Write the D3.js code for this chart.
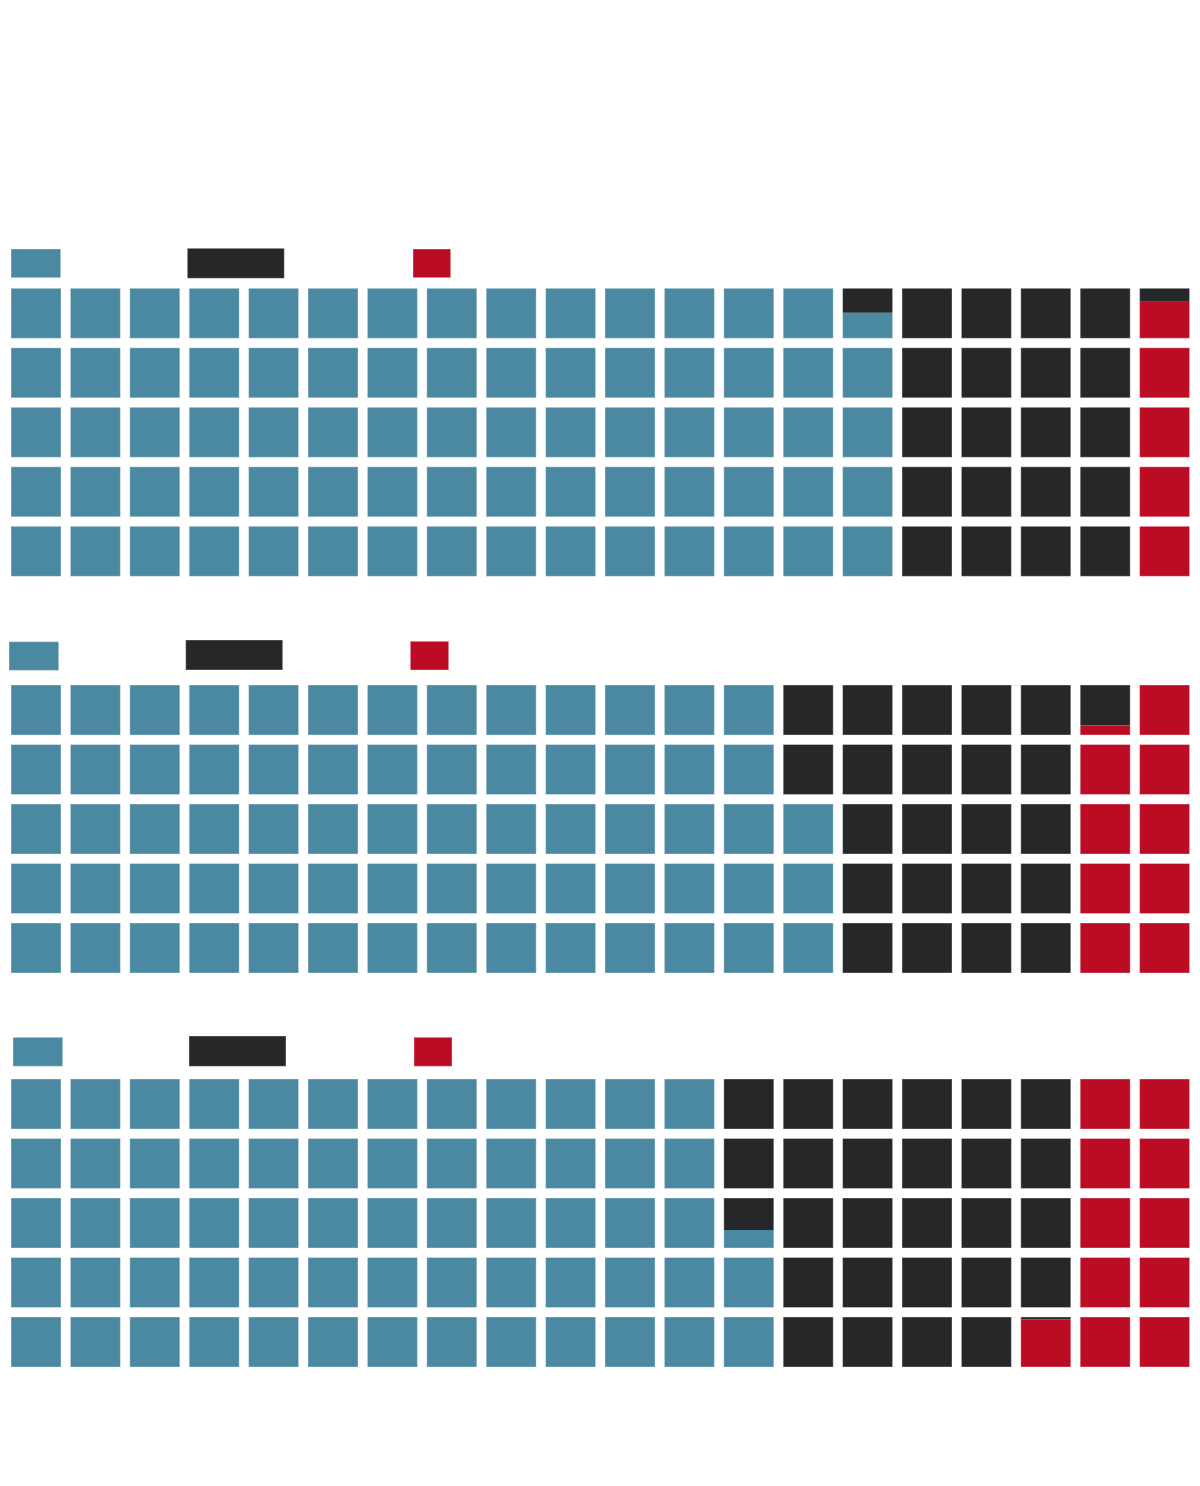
<!DOCTYPE html>
<html>
<head>
<meta charset="utf-8">
<script src="https://cdn.jsdelivr.net/npm/d3@7"></script>
<style>
  html, body { margin: 0; padding: 0; background: #fff; }
  svg { display: block; }
</style>
</head>
<body>
<svg id="chart" width="1200" height="1486"></svg>
<script>
// ---- data (percent shares per panel) ----
const categories = ["blue", "black", "red"];
const panels = ["Panel 1", "Panel 2", "Panel 3"];
const blueValues = [74.51, 68.00, 62.36];
const blackValues = [20.76, 22.81, 26.69];
const redValues = [4.73, 9.19, 10.95];

// ---- style / layout ----
const colors = { blue: "#4b89a2", black: "#252729", red: "#bc0c23" };
const nCols = 20, nRows = 5;
const cell = 50;
const panelTops = [288.3, 685, 1079];
const legendBoxes = [
  [ {x: 11, y: 249, w: 49.7, h: 28.7}, {x: 187.3, y: 248.3, w: 97, h: 30}, {x: 413, y: 249, w: 37.7, h: 28.7} ],
  [ {x: 9, y: 641.7, w: 49.7, h: 28.7}, {x: 185.7, y: 640, w: 97, h: 30}, {x: 410.3, y: 641.3, w: 38.4, h: 28.7} ],
  [ {x: 13, y: 1037.3, w: 49.7, h: 29}, {x: 189, y: 1036, w: 97, h: 30.3}, {x: 414, y: 1037.3, w: 38, h: 29} ]
];

const svg = d3.select("#chart");

const x = d3.scaleBand()
  .domain(d3.range(nCols))
  .range([11, 11 + 19 * 59.4 + cell])
  .paddingInner(9.4 / 59.4)
  .paddingOuter(0);

// rows numbered from the bottom (0 = bottom row)
const yRow = d3.scaleBand()
  .domain(d3.range(nRows).reverse())
  .range([0, 4 * 59.5 + cell])
  .paddingInner(9.5 / 59.5)
  .paddingOuter(0);

const h = d3.scaleLinear().domain([0, 1]).range([0, yRow.bandwidth()]);

panels.forEach((p, pi) => {
  const g = svg.append("g").attr("transform", `translate(0,${panelTops[pi]})`);
  const blue = blueValues[pi], red = redValues[pi], black = blackValues[pi];

  const cells = [];
  for (let c = 0; c < nCols; c++) {
    for (let r = 0; r < nRows; r++) {
      const iB = c * nRows + r;                 // blue fills from the left, bottom-up
      const iR = (nCols - 1 - c) * nRows + r;   // red fills from the right, bottom-up
      const bf = Math.max(0, Math.min(1, blue - iB));
      const rf = Math.max(0, Math.min(1, red - iR));
      const kf = Math.max(0, Math.min(1, 1 - bf - rf));
      cells.push({c, r, bf, rf, kf});
    }
  }

  const cg = g.selectAll("g.cell").data(cells).join("g").attr("class", "cell");

  // black portion at top
  cg.filter(d => d.kf > 0).append("rect")
    .attr("x", d => x(d.c))
    .attr("y", d => yRow(d.r))
    .attr("width", x.bandwidth())
    .attr("height", d => h(d.kf))
    .attr("fill", colors.black);

  // blue portion at bottom
  cg.filter(d => d.bf > 0).append("rect")
    .attr("x", d => x(d.c))
    .attr("y", d => yRow(d.r) + yRow.bandwidth() - h(d.bf))
    .attr("width", x.bandwidth())
    .attr("height", d => h(d.bf))
    .attr("fill", colors.blue);

  // red portion at bottom
  cg.filter(d => d.rf > 0).append("rect")
    .attr("x", d => x(d.c))
    .attr("y", d => yRow(d.r) + yRow.bandwidth() - h(d.rf))
    .attr("width", x.bandwidth())
    .attr("height", d => h(d.rf))
    .attr("fill", colors.red);

  // soft outline
  cg.append("rect")
    .attr("x", d => x(d.c))
    .attr("y", d => yRow(d.r))
    .attr("width", x.bandwidth())
    .attr("height", yRow.bandwidth())
    .attr("fill", "none")
    .attr("stroke", "#fff")
    .attr("stroke-opacity", 0.35)
    .attr("stroke-width", 1);

  // legend swatches
  const lg = svg.append("g");
  lg.selectAll("rect").data(categories).join("rect")
    .attr("x", (d, i) => legendBoxes[pi][i].x)
    .attr("y", (d, i) => legendBoxes[pi][i].y)
    .attr("width", (d, i) => legendBoxes[pi][i].w)
    .attr("height", (d, i) => legendBoxes[pi][i].h)
    .attr("fill", d => colors[d])
    .attr("stroke", "#fff")
    .attr("stroke-opacity", 0.35)
    .attr("stroke-width", 1);
});
</script>
</body>
</html>
